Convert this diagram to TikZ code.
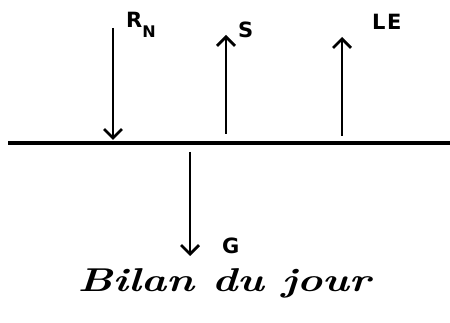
\documentclass[tikz,border=0pt]{standalone}
\usepackage{fontspec}
\newfontfamily\lblfont{DejaVu Sans}
\usetikzlibrary{arrows.meta}
\begin{document}
\begin{tikzpicture}[x=1pt,y=-1pt,
  flux/.style={line width=2.8pt,-{Straight Barb[length=9pt,width=18pt,line width=2.8pt]}},
  lbl/.style={font=\lblfont\bfseries\fontsize{21}{24}\selectfont,inner sep=0pt},
  pt/.style={inner sep=0pt,minimum size=0pt}]
\useasboundingbox (0,0) rectangle (450,323);
\fill[white] (0,0) rectangle (450,323);
% ground line
\coordinate (gl) at (8,143);
\coordinate (gr) at (450,143);
\draw[line width=4pt] (gl) -- (gr);
% R_N
\coordinate (rnTop) at (113,28);
\coordinate (rnBot) at (113,140);
\draw[flux] (rnTop) -- (rnBot);
\node[lbl,anchor=west] (rn) at (126,25) {R\raisebox{-0.5em}{\fontsize{16}{17}\selectfont N}};
% S
\coordinate (sBot) at (226,134);
\coordinate (sTop) at (226,35);
\draw[flux] (sBot) -- (sTop);
\node[lbl,anchor=west] (s) at (238,30) {S};
% LE
\coordinate (leBot) at (342,136);
\coordinate (leTop) at (342,37);
\draw[flux] (leBot) -- (leTop);
\node[lbl,anchor=west] (le) at (372,22) {L\kern1.5pt E};
% G
\coordinate (gTop) at (190,152);
\coordinate (gBot) at (190,256);
\draw[flux] (gTop) -- (gBot);
\node[lbl,anchor=west] (g) at (222,246) {G};
% caption
\node[inner sep=0pt,anchor=base,xscale=1.3] (cap) at (224,291)
  {\fontsize{33}{36}\selectfont\bfseries\itshape Bilan du jour};
\end{tikzpicture}
\end{document}
